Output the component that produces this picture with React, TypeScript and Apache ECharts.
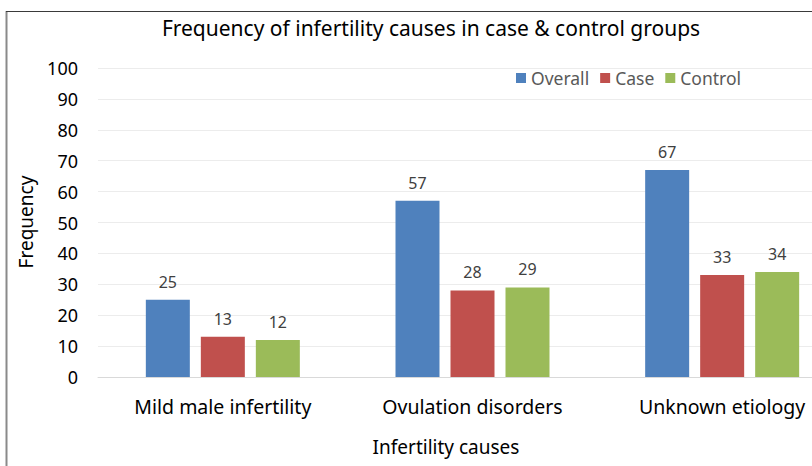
import React, { useEffect, useRef } from "react";
import * as echarts from "echarts";

const categories = ["Mild male infertility", "Ovulation disorders", "Unknown etiology"];
const overall = [25, 57, 67];
const caseGroup = [13, 28, 33];
const control = [12, 29, 34];
const seriesNames = ["Overall", "Case", "Control"];
const colors = ["#4F81BD", "#C0504D", "#9BBB59"];

const FONT = "'Noto Sans', sans-serif";

export default function App() {
  const ref = useRef<HTMLDivElement>(null);
  useEffect(() => {
    if (!ref.current) return;
    const chart = echarts.init(ref.current, null, { renderer: "svg" });
    const label = {
      show: true,
      position: "top",
      distance: 10,
      fontFamily: FONT,
      fontSize: 16,
      color: "#404040",
    };
    const values = [overall, caseGroup, control];
    chart.setOption({
      animation: false,
      backgroundColor: "#ffffff",
      textStyle: { fontFamily: FONT },
      title: {
        text: "Frequency of infertility causes in case & control groups",
        left: 426,
        top: 12,
        textAlign: "center",
        textStyle: { fontFamily: FONT, fontSize: 21, fontWeight: "normal", color: "#000000" },
      },
      legend: {
        left: 511,
        top: 64,
        itemWidth: 10,
        itemHeight: 10,
        itemGap: 11,
        icon: "rect",
        data: seriesNames,
        textStyle: { fontFamily: FONT, fontSize: 17.5, color: "#595959" },
      },
      grid: { left: 98, top: 68, width: 749, height: 309, containLabel: false },
      xAxis: {
        type: "category",
        data: categories,
        axisLine: { lineStyle: { color: "#d9d9d9", width: 1 } },
        axisTick: { show: false },
        axisLabel: { fontFamily: FONT, fontSize: 19.5, color: "#000000", margin: 19 },
      },
      yAxis: {
        type: "value",
        min: 0,
        max: 100,
        interval: 10,
        axisLine: { show: false },
        axisTick: { show: false },
        splitLine: { lineStyle: { color: "#ececec", width: 1 } },
        axisLabel: { fontFamily: FONT, fontSize: 18, color: "#000000", margin: 20 },
      },
      graphic: [
        {
          type: "line",
          shape: { x1: 6.5, y1: 11, x2: 6.5, y2: 466 },
          style: { stroke: "#8a8a8a", lineWidth: 2 },
        },
        {
          type: "line",
          shape: { x1: 6, y1: 11.5, x2: 860, y2: 11.5 },
          style: { stroke: "#3a3a3a", lineWidth: 1 },
        },
        {
          type: "text",
          x: 446,
          y: 447,
          style: {
            text: "Infertility causes",
            fontFamily: FONT,
            fontSize: 19,
            fill: "#000000",
            textAlign: "center",
            textVerticalAlign: "middle",
          },
        },
        {
          type: "text",
          x: 26,
          y: 222,
          rotation: Math.PI / 2,
          style: {
            text: "Frequency",
            fontFamily: FONT,
            fontSize: 19,
            fill: "#000000",
            textAlign: "center",
            textVerticalAlign: "middle",
          },
        },
      ],
      series: seriesNames.map((name, i) => ({
        name,
        type: "bar",
        data: values[i],
        barWidth: 44,
        barGap: "25%",
        itemStyle: { color: colors[i] },
        label,
      })),
    });
    return () => chart.dispose();
  }, []);
  return (
    <div
      style={{
        position: "absolute",
        left: 0,
        top: 0,
        width: 812,
        height: 466,
        overflow: "hidden",
      }}
    >
      <div ref={ref} style={{ width: 860, height: 466 }} />
    </div>
  );
}
